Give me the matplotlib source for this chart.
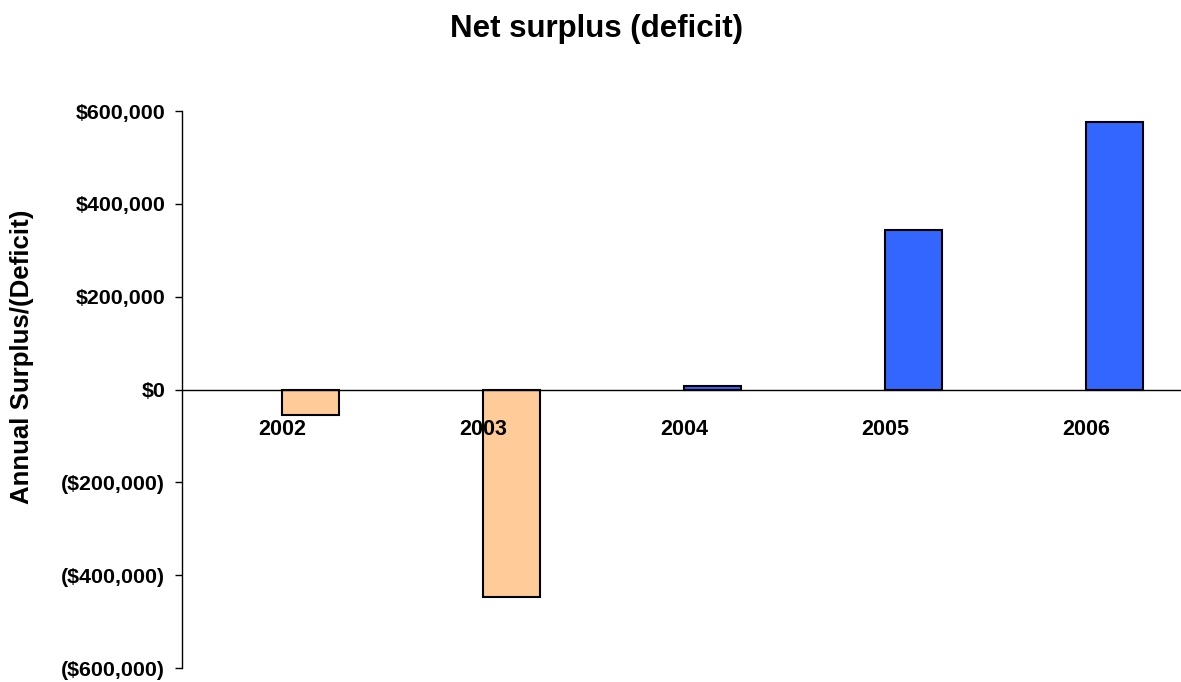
import numpy as np
import matplotlib.pyplot as plt
from matplotlib.ticker import FuncFormatter

plt.rcParams['font.family'] = ['Liberation Sans', 'DejaVu Sans']

years = ['2002', '2003', '2004', '2005', '2006']
surplus = [-56000, -448000, 8000, 344000, 576000]

def money(v, pos):
	if v < 0:
		return '(${:,.0f})'.format(-v)
	return '${:,.0f}'.format(v)

fig = plt.figure(figsize=(11.81, 6.82), dpi=100)
ax = fig.add_axes([182/1181, 14/682, 1 - 182/1181, (668-111)/682])

x = np.arange(len(years))
colors = ['#FFCC99' if v < 0 else '#3366FF' for v in surplus]
ax.bar(x + 0.14, surplus, width=0.285, color=colors, edgecolor='black', linewidth=1.5, zorder=2)
ax.axhline(0, color='black', linewidth=1, zorder=3)

for i, yr in enumerate(years):
	ax.annotate(yr, (i, 0), xytext=(0, -21.5), textcoords='offset points',
		ha='center', va='top', fontsize=15.5, fontweight='bold', zorder=4)

ax.set_xlim(-0.5, 4.47)
ax.set_ylim(-600000, 600000)
ax.set_yticks(np.arange(-600000, 600001, 200000))
ax.yaxis.set_major_formatter(FuncFormatter(money))
ax.set_xticks([])
for s in ['top', 'right', 'bottom']:
	ax.spines[s].set_visible(False)
ax.spines['left'].set_linewidth(1)
ax.tick_params(axis='y', direction='out', length=5, width=1, pad=7, labelsize=15.4)
for lbl in ax.get_yticklabels():
	lbl.set_fontweight('bold')

fig.text(22/1181, 1 - 357/682, 'Annual Surplus/(Deficit)', rotation=90, ha='center', va='center',
	fontsize=18.6, fontweight='bold')
fig.text(597/1181, 1 - 29/682, 'Net surplus (deficit)', ha='center', va='center',
	fontsize=22.5, fontweight='bold')

fig.savefig('out.png', dpi=100)
